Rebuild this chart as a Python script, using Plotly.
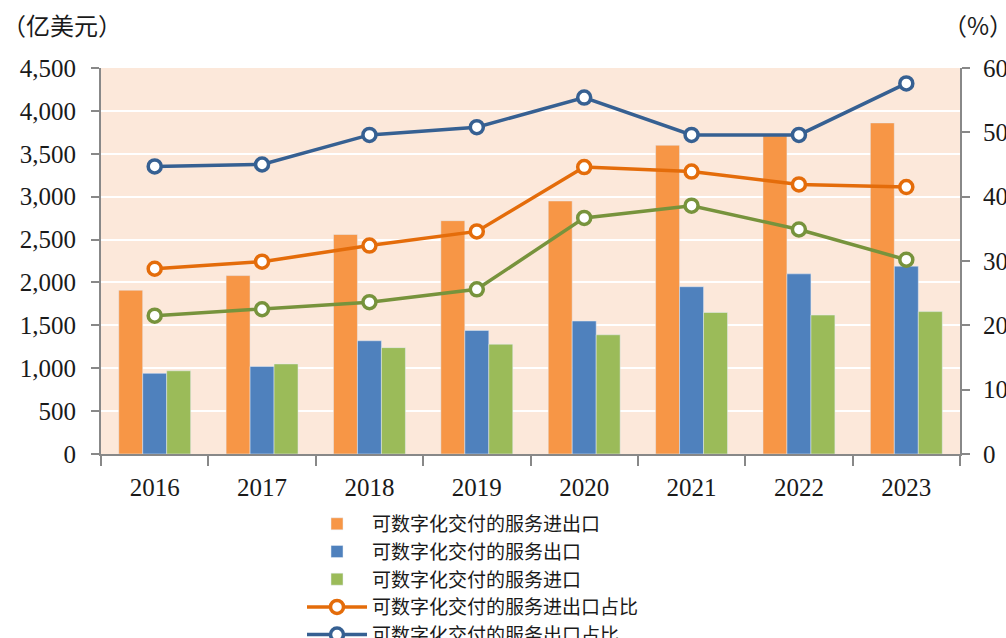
import plotly.graph_objects as go

years = ["2016", "2017", "2018", "2019", "2020", "2021", "2022", "2023"]
total_trade = [1910, 2080, 2560, 2720, 2950, 3600, 3710, 3860]
exports = [940, 1020, 1320, 1440, 1550, 1950, 2100, 2190]
imports = [970, 1050, 1240, 1280, 1390, 1650, 1620, 1660]
share_total = [28.8, 29.9, 32.4, 34.6, 44.6, 43.9, 41.9, 41.5]
share_export = [44.7, 45.0, 49.6, 50.8, 55.4, 49.6, 49.6, 57.6]
share_import = [21.5, 22.5, 23.6, 25.6, 36.7, 38.6, 34.9, 30.2]

names = ["可数字化交付的服务进出口", "可数字化交付的服务出口", "可数字化交付的服务进口",
         "可数字化交付的服务进出口占比", "可数字化交付的服务出口占比", "可数字化交付的服务进口占比"]

SERIF = "Liberation Serif, Times New Roman, serif"
CJK = "Noto Sans CJK SC, sans-serif"

fig = go.Figure()
fig.add_trace(go.Bar(x=years, y=total_trade, name=names[0], marker_color="#F79646"))
fig.add_trace(go.Bar(x=years, y=exports, name=names[1], marker_color="#4F81BD"))
fig.add_trace(go.Bar(x=years, y=imports, name=names[2], marker_color="#9BBB59"))

line_specs = [(share_total, names[3], "#E46C0A"),
              (share_export, names[4], "#366092"),
              (share_import, names[5], "#77933C")]
for vals, nm, col in line_specs:
    fig.add_trace(go.Scatter(
        x=years, y=vals, name=nm, yaxis="y2", mode="lines+markers",
        line=dict(color=col, width=3.5),
        marker=dict(symbol="circle", size=13, color="white", line=dict(color=col, width=3.5))))

axis_common = dict(showline=True, linecolor="#888888", linewidth=2, ticks="outside",
                   tickcolor="#888888", tickwidth=2, tickfont=dict(size=25, family=SERIF))

fig.update_layout(
    width=1006, height=638,
    margin=dict(l=101, r=46, t=68, b=184, autoexpand=False),
    paper_bgcolor="white", plot_bgcolor="#FCE8DA",
    barmode="group", bargap=0.33, bargroupgap=0,
    font=dict(family=SERIF, size=20, color="#1a1a1a"),
    xaxis=dict(**axis_common, tickson="boundaries", ticklen=10, ticklabelstandoff=10,
               showgrid=False),
    yaxis=dict(**axis_common, range=[0, 4500], dtick=500, tickformat=",", ticklen=8,
               ticklabelstandoff=10, gridcolor="white", gridwidth=2, zeroline=False),
    yaxis2=dict(**axis_common, range=[0, 60], dtick=10, overlaying="y", side="right",
                ticklen=8, ticklabelstandoff=8, showgrid=False, zeroline=False),
    legend=dict(x=0.234, y=-0.132, xanchor="left", yanchor="top", traceorder="normal",
                font=dict(size=19, family=CJK), tracegroupgap=0,
                itemwidth=60, bgcolor="rgba(0,0,0,0)"),
    annotations=[
        dict(text="（亿美元）", xref="paper", yref="paper", x=-0.1176, y=1.113,
             xanchor="left", yanchor="middle", showarrow=False,
             font=dict(size=24, family=CJK)),
        dict(text="（%）", xref="paper", yref="paper", x=1.064, y=1.113,
             xanchor="right", yanchor="middle", showarrow=False,
             font=dict(size=24, family=CJK)),
    ],
)

fig.write_html("out.html", config={"displayModeBar": False},
               post_script="document.body.style.margin='0';document.body.style.overflow='hidden';")
